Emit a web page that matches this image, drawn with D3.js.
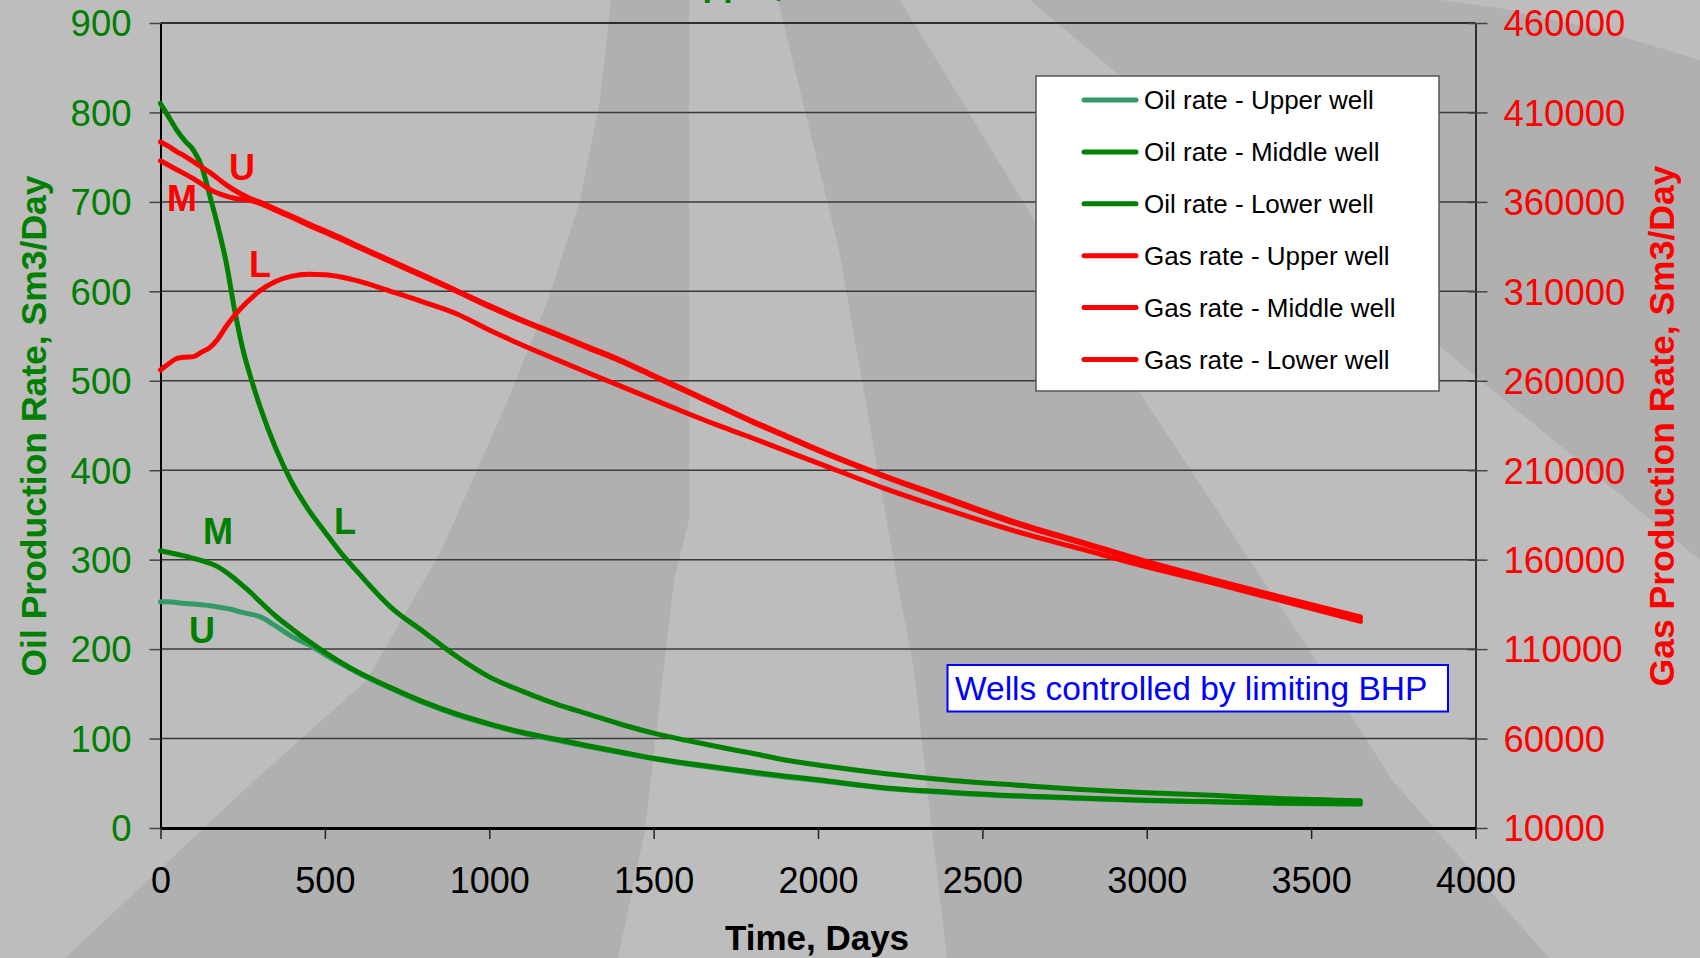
<!DOCTYPE html>
<html>
<head>
<meta charset="utf-8">
<script src="https://cdn.jsdelivr.net/npm/d3@7/dist/d3.min.js"></script>
<style>
  html, body { margin: 0; padding: 0; background: #bebebe; }
  svg { display: block; }
  text { font-family: "Liberation Sans", Arial, sans-serif; }
</style>
</head>
<body>
<svg id="chart" width="1700" height="958"></svg>
<script>
// ---------------- DATA ----------------
const days = [0, 25, 50, 75, 100, 125, 150, 175, 200, 225, 250, 275, 300, 350, 400, 450, 500, 550, 600,
  700, 800, 900, 1000, 1100, 1200, 1300, 1400, 1500, 1600, 1700, 1800, 1900, 2000,
  2200, 2400, 2600, 2800, 3000, 3200, 3400, 3650];

const oilUpper = [253, 253, 252, 251, 250.5, 249.5, 248.5, 247, 245.5, 243.5, 241, 239, 236.5, 226, 214, 205, 194, 183.5, 173.5,
  156, 140, 126.5, 115.5, 106, 98.5, 91, 84, 77.5, 71.5, 66.5, 61.5, 57, 53,
  44.5, 39.5, 35.5, 33, 30.5, 29, 27.5, 26.5];

const oilMiddle = [310, 308, 306, 304, 301.5, 299, 296, 292, 286, 279, 271, 263, 254, 237, 222.5, 209, 196.5, 185, 174.5,
  157, 141, 127.5, 116.5, 107, 99.5, 92, 85, 78, 72.5, 67.5, 62.5, 58, 54,
  45, 40, 36, 33.5, 31, 29.5, 28, 27];

const oilLower = [810, 795, 780, 768, 758, 740, 707, 672, 632, 580, 536, 503, 474, 425, 386, 356, 331, 307, 286,
  247, 219.5, 192, 169, 153, 139, 127.5, 116, 106, 98, 90.5, 83.5, 76, 70.5,
  61, 53.5, 48, 43, 39.5, 36.5, 33, 30.5];

const gasUpper = [393500, 391000, 388000, 385500, 382500, 379500, 376500, 373000, 369500, 366500, 364000, 361800, 360000, 356000, 352000, 347700, 343800, 339800, 335500,
  327200, 319000, 310500, 302000, 294000, 286500, 279000, 271500, 263000, 254500, 246000, 237500, 229500, 221500,
  207000, 194000, 181000, 170000, 159000, 149000, 139500, 128000];

const gasMiddle = [383000, 380500, 378000, 375500, 373000, 370000, 367000, 364800, 363200, 362000, 361300, 360800, 359300, 355300, 351300, 347000, 343000, 339000, 334800,
  326500, 318300, 310000, 301400, 293400, 286000, 278400, 271000, 262500, 254000, 245500, 237000, 229000, 221000,
  206500, 193200, 180300, 169300, 158500, 148500, 139000, 127500];

const gasLower = [266000, 269500, 272500, 273200, 273500, 276000, 278500, 283500, 290500, 296500, 301500, 306000, 310000, 315500, 318500, 319500, 319300, 318000, 315800,
  310000, 304000, 297500, 288400, 280000, 272200, 264500, 257000, 249500, 242000, 234800, 228000, 221000, 214000,
  200000, 187500, 175900, 166000, 156000, 147000, 137500, 125500];

const xTicks = [0, 500, 1000, 1500, 2000, 2500, 3000, 3500, 4000];
const oilTicks = [0, 100, 200, 300, 400, 500, 600, 700, 800, 900];
const gasTicks = [10000, 60000, 110000, 160000, 210000, 260000, 310000, 360000, 410000, 460000];

const seriesNames = ["Oil rate - Upper well", "Oil rate - Middle well", "Oil rate - Lower well",
  "Gas rate - Upper well", "Gas rate - Middle well", "Gas rate - Lower well"];

// ---------------- LAYOUT ----------------
const W = 1700, H = 958;
const L = 160.5, R = 1475.5, T = 23, B = 828;
const FONT = '"Liberation Sans", Arial, sans-serif';
const GREEN = "#008000", SEA = "#339966", RED = "#ff0000";
const fmt = d3.format("d");

const svg = d3.select("#chart");

// background decoration (template swooshes)
const bgLight = "#bdbdbd", bgDark = "#b0b0b0";
svg.append("rect").attr("width", W).attr("height", H).attr("fill", bgLight);
const bgShapes = [
  [[611,0],[600,100],[580,200],[548,300],[508,400],[455,520],[440,553],[367,680],[255,780],[65,958],[618,958],[645,830],[674,580],[689,520],[689,0]],
  [[778,0],[839,250],[897,580],[914,670],[932,830],[947,958],[1549,958],[1392,780],[1322,670],[1138,390],[900,0]],
  [[1030,0],[1480,380],[1700,560],[1700,60],[1600,30],[1500,8],[1440,0]]
];
const polyLine = d3.line();
bgShapes.forEach(s => svg.append("path").attr("d", polyLine(s) + "Z").attr("fill", bgDark));

// scales
const x = d3.scaleLinear().domain([0, 4000]).range([L, R]);
const yOil = d3.scaleLinear().domain([0, 900]).range([B, T]);
const yGas = d3.scaleLinear().domain([10000, 460000]).range([B, T]);

// title (mostly off the top of the picture, as in the reference)
svg.append("text").attr("x", 678).attr("y", -4)
  .attr("fill", GREEN).attr("font-size", 34).attr("font-weight", "bold")
  .text("Upper, Middle and Lower wells");

// gridlines
svg.append("g").selectAll("line").data(oilTicks).join("line")
  .attr("x1", L).attr("x2", R)
  .attr("y1", d => yOil(d)).attr("y2", d => yOil(d))
  .attr("stroke", d => d === 900 ? "#000" : "#3a3a3a")
  .attr("stroke-width", 1.5);

// axes
const axL = svg.append("g").attr("transform", `translate(${L},0)`)
  .call(d3.axisLeft(yOil).tickValues(oilTicks).tickFormat(fmt).tickSize(11).tickPadding(18).tickSizeOuter(0));
axL.select(".domain").attr("stroke", "#000").attr("stroke-width", 2);
axL.selectAll(".tick line").attr("stroke", "#444").attr("stroke-width", 1.5);
axL.selectAll(".tick text").attr("fill", GREEN).attr("font-size", 36.5).attr("font-family", FONT).attr("dy", "0.35em");

const axR = svg.append("g").attr("transform", `translate(${R},0)`)
  .call(d3.axisRight(yGas).tickValues(gasTicks).tickFormat(fmt).tickSize(12).tickPadding(16).tickSizeOuter(0));
axR.select(".domain").attr("stroke", "#000").attr("stroke-width", 1.5);
axR.selectAll(".tick line").attr("stroke", "#444").attr("stroke-width", 1.5).attr("x1", -8);
axR.selectAll(".tick text").attr("fill", RED).attr("font-size", 36.5).attr("font-family", FONT).attr("dy", "0.35em");

const axB = svg.append("g").attr("transform", `translate(0,${B})`)
  .call(d3.axisBottom(x).tickValues(xTicks).tickFormat(fmt).tickSize(11).tickPadding(28).tickSizeOuter(0));
axB.select(".domain").attr("stroke", "#000").attr("stroke-width", 3);
axB.selectAll(".tick line").attr("stroke", "#222").attr("stroke-width", 1.5);
axB.selectAll(".tick text").attr("fill", "#000").attr("font-size", 36).attr("font-family", FONT);

// axis titles
svg.append("text").attr("x", 817).attr("y", 950).attr("text-anchor", "middle")
  .attr("font-size", 35).attr("font-weight", "bold").attr("fill", "#000").text("Time, Days");
svg.append("text").attr("transform", "translate(46,426) rotate(-90)").attr("text-anchor", "middle")
  .attr("font-size", 35.5).attr("font-weight", "bold").attr("fill", GREEN).text("Oil Production Rate, Sm3/Day");
svg.append("text").attr("transform", "translate(1674,426) rotate(-90)").attr("text-anchor", "middle")
  .attr("font-size", 35.5).attr("font-weight", "bold").attr("fill", RED).text("Gas Production Rate, Sm3/Day");

// series
const series = [
  { name: seriesNames[0], vals: oilUpper, y: yOil, color: SEA },
  { name: seriesNames[1], vals: oilMiddle, y: yOil, color: GREEN },
  { name: seriesNames[2], vals: oilLower, y: yOil, color: GREEN },
  { name: seriesNames[3], vals: gasUpper, y: yGas, color: RED },
  { name: seriesNames[4], vals: gasMiddle, y: yGas, color: RED },
  { name: seriesNames[5], vals: gasLower, y: yGas, color: RED }
];
const plot = svg.append("g");
series.forEach(s => {
  const line = d3.line().x((d, i) => x(days[i])).y(d => s.y(d)).curve(d3.curveMonotoneX);
  plot.append("path").datum(s.vals).attr("d", line)
    .attr("fill", "none").attr("stroke", s.color).attr("stroke-width", 5)
    .attr("stroke-linejoin", "round").attr("stroke-linecap", "round");
});

// curve labels
const labels = [
  { t: "U", x: 242, y: 180, c: RED }, { t: "M", x: 182, y: 211, c: RED }, { t: "L", x: 260, y: 277, c: RED },
  { t: "M", x: 218, y: 544, c: GREEN }, { t: "U", x: 202, y: 643, c: GREEN }, { t: "L", x: 345, y: 534, c: GREEN }
];
svg.append("g").selectAll("text").data(labels).join("text")
  .attr("x", d => d.x).attr("y", d => d.y).attr("text-anchor", "middle")
  .attr("font-size", 36).attr("font-weight", "bold").attr("fill", d => d.c).text(d => d.t);

// legend
const lg = svg.append("g");
lg.append("rect").attr("x", 1036).attr("y", 76).attr("width", 403).attr("height", 315)
  .attr("fill", "#fff").attr("stroke", "#555").attr("stroke-width", 1.5);
series.forEach((s, i) => {
  const yy = 100 + i * 51.9;
  lg.append("line").attr("x1", 1084).attr("x2", 1136).attr("y1", yy).attr("y2", yy)
    .attr("stroke", s.color).attr("stroke-width", 5).attr("stroke-linecap", "round");
  lg.append("text").attr("x", 1144).attr("y", yy).attr("dy", "0.35em")
    .attr("font-size", 26).attr("fill", "#000").text(s.name);
});

// annotation box
svg.append("rect").attr("x", 947.5).attr("y", 665).attr("width", 500.5).attr("height", 46.5)
  .attr("fill", "#fff").attr("stroke", "#0000ff").attr("stroke-width", 2);
svg.append("text").attr("x", 955).attr("y", 700).attr("font-size", 33.5).attr("fill", "#0000ff")
  .text("Wells controlled by limiting BHP");
</script>
</body>
</html>
